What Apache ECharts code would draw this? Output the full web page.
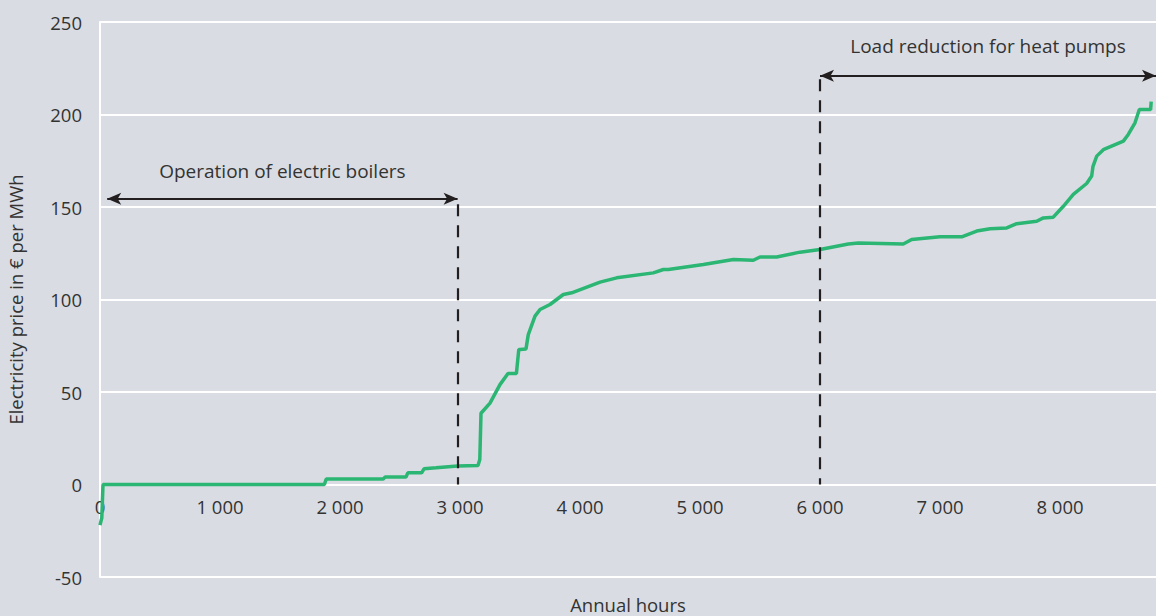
<!DOCTYPE html>
<html>
<head>
<meta charset="utf-8">
<script src="https://cdn.jsdelivr.net/npm/echarts@6/dist/echarts.min.js"></script>
<style>
html,body{margin:0;padding:0;background:#d9dce2;}
#c{width:1156px;height:616px;}
</style>
</head>
<body>
<div id="c"></div>
<script>
const hours = [0, 15, 25, 1870, 1885, 2360, 2375, 2550, 2565, 2680, 2700, 2800, 2980, 3150, 3165, 3175, 3250, 3333, 3400, 3470, 3490, 3500, 3550, 3569, 3625, 3667, 3750, 3861, 3931, 4167, 4306, 4611, 4694, 4736, 5028, 5278, 5444, 5500, 5639, 5833, 6000, 6236, 6319, 6694, 6764, 7000, 7181, 7306, 7417, 7556, 7639, 7806, 7861, 7944, 8028, 8111, 8222, 8264, 8275, 8306, 8361, 8528, 8569, 8625, 8661, 8755, 8760];
const prices = [-22, -18, 0, 0, 3, 3, 4, 4, 6.3, 6.3, 8.5, 9, 10, 10.3, 13.5, 38.5, 44, 54, 60, 60, 73, 73, 73.3, 81, 91, 94.6, 97.3, 102.7, 103.6, 109.4, 111.7, 114.4, 116.2, 116.2, 118.9, 121.6, 121.2, 123, 123, 125.6, 127, 130, 130.6, 130, 132.4, 133.9, 133.9, 137, 138.2, 138.7, 141, 142.3, 144.1, 144.5, 150.4, 156.8, 162.7, 166.7, 172, 177.5, 181, 185.6, 189.2, 195.5, 202.7, 202.7, 207];

// annotations (data coordinates)
const boilerRange = [60, 2980];
const boilerArrowY = 154.5;
const boilerLabel = 'Operation of electric boilers';
const heatPumpRange = [6000, 8800];
const heatPumpArrowY = 221;
const heatPumpLabel = 'Load reduction for heat pumps';

const xTitle = 'Annual hours';
const yTitle = 'Electricity price in € per MWh';

const FONT = '"Open Sans", sans-serif';
const TXT = '#333333';
const DARK = '#231f20';

const chart = echarts.init(document.getElementById('c'), null, {renderer: 'svg'});
chart.setOption({
  backgroundColor: '#d9dce2',
  animation: false,
  grid: {left: 100, right: 0, top: 22, bottom: 39, containLabel: false, outerBoundsMode: 'none'},
  xAxis: {
    type: 'value', min: 0, max: 8800, interval: 1000,
    offset: -92,
    name: xTitle, nameLocation: 'middle', nameGap: 110, nameMoveOverlap: false,
    nameTextStyle: {fontFamily: FONT, fontSize: 18.5, color: TXT},
    axisLine: {show: true, onZero: false, lineStyle: {color: '#ffffff', width: 2}},
    axisTick: {show: false},
    splitLine: {show: false},
    axisLabel: {
      fontFamily: FONT, fontSize: 18.5, color: TXT, margin: 12, showMaxLabel: false,
      formatter: v => String(v).replace(/\B(?=(\d{3})+(?!\d))/g, ' ')
    }
  },
  yAxis: {
    type: 'value', min: -50, max: 250, interval: 50,
    name: yTitle, nameLocation: 'middle', nameGap: 75, nameRotate: 90, nameMoveOverlap: false,
    nameTextStyle: {fontFamily: FONT, fontSize: 18.5, color: TXT},
    axisLine: {show: true, lineStyle: {color: '#ffffff', width: 2}},
    axisTick: {show: false},
    splitLine: {show: true, lineStyle: {color: '#ffffff', width: 2}},
    axisLabel: {fontFamily: FONT, fontSize: 18.5, color: TXT, margin: 18}
  },
  series: [
    {
      type: 'line',
      data: hours.map((h, i) => [h, prices[i]]),
      showSymbol: false,
      lineStyle: {color: '#2bb673', width: 3.5},
      itemStyle: {color: '#2bb673'},
      z: 3,
      markLine: {
        silent: true,
        animation: false,
        data: [
          [
            {coord: [boilerRange[1], boilerArrowY - 3], symbol: 'none', lineStyle: {type: [12, 9], width: 2.2, color: DARK}},
            {coord: [boilerRange[1], 0], symbol: 'none'}
          ],
          [
            {coord: [heatPumpRange[0], heatPumpArrowY - 2], symbol: 'none', lineStyle: {type: [12, 9], width: 2.2, color: DARK}},
            {coord: [heatPumpRange[0], 0], symbol: 'none'}
          ],
          [
            {coord: [boilerRange[0], boilerArrowY], symbol: 'arrow', symbolSize: [9, 14], lineStyle: {type: 'solid', width: 2.2, color: DARK},
             label: {show: true, formatter: boilerLabel, position: 'insideMiddleTop', distance: 18, fontFamily: FONT, fontSize: 19, color: TXT}},
            {coord: [boilerRange[1], boilerArrowY], symbol: 'arrow', symbolSize: [9, 14]}
          ],
          [
            {coord: [heatPumpRange[0], heatPumpArrowY], symbol: 'arrow', symbolSize: [9, 14], lineStyle: {type: 'solid', width: 2.2, color: DARK},
             label: {show: true, formatter: heatPumpLabel, position: 'insideMiddleTop', distance: 20, fontFamily: FONT, fontSize: 19, color: TXT}},
            {coord: [heatPumpRange[1], heatPumpArrowY], symbol: 'arrow', symbolSize: [9, 14]}
          ]
        ]
      }
    }
  ]
});
</script>
</body>
</html>
